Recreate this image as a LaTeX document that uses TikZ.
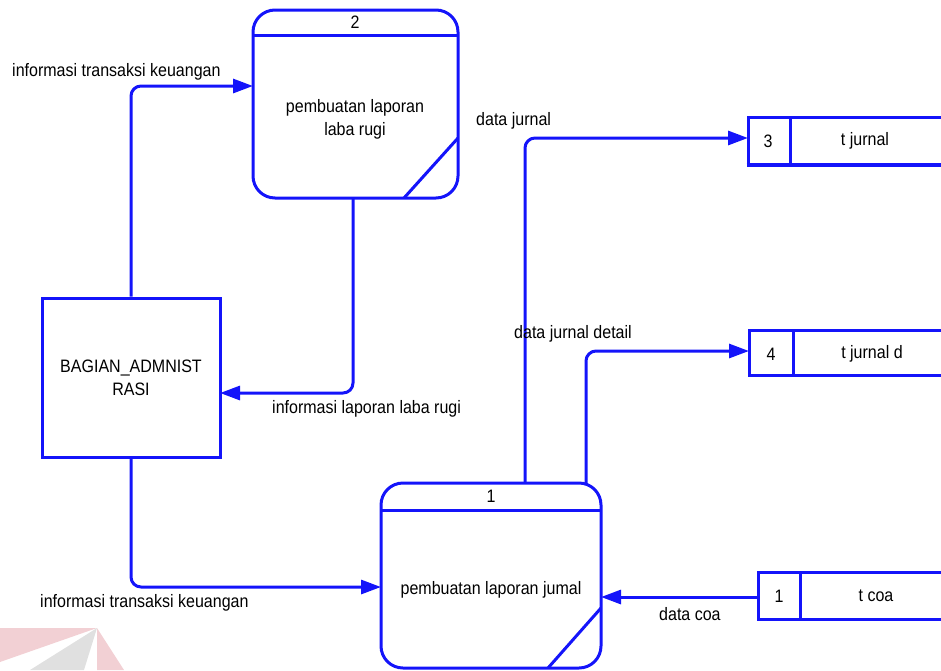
\documentclass[tikz,border=0pt]{standalone}
\usepackage{fontspec}
\setmainfont[FakeStretch=0.89]{Liberation Sans}
\usetikzlibrary{arrows.meta}
\definecolor{dfdblue}{RGB}{20,20,250}
\definecolor{markpink}{RGB}{242,208,212}
\definecolor{markgrey}{RGB}{224,224,224}
\begin{document}
\begin{tikzpicture}[x=1pt,y=-1pt,
  font=\fontsize{18}{23}\selectfont,
  proc/.style={draw=dfdblue, line width=3pt, rounded corners=22pt, inner sep=0pt},
  entity/.style={draw=dfdblue, line width=3pt, inner sep=0pt, align=center},
  txt/.style={inner sep=0pt, align=center},
  lbl/.style={inner sep=0pt, anchor=west},
  rule/.style={draw=dfdblue, line width=3pt},
  flow/.style={draw=dfdblue, line width=3pt, rounded corners=10pt,
    -{Triangle[length=20pt,width=14pt]}}]
\useasboundingbox (0,0) rectangle (941,670);

% faint logo mark in the lower left corner
\fill[markpink] (0,628) -- (97,628) -- (0,662) -- cycle;
\fill[markpink] (97,628) -- (124,670) -- (97,670) -- cycle;
\fill[markgrey] (97,628) -- (30,670) -- (84,670) -- cycle;

% process 2
\node[proc, minimum width=205pt, minimum height=188pt] (p2) at (355.5,104) {};
\node[txt] (p2num) at (355,22) {2};
\node[txt] (p2txt) at (355,119) {pembuatan laporan\\laba rugi};
\draw[rule] (253,35) -- (458,35);
\draw[rule] (458,138) -- (404,198);

% external entity
\node[entity, minimum width=178pt, minimum height=159pt] (ent) at (131,377.5)
  {BAGIAN\_ADMNIST\\RASI};

% process 1
\node[proc, minimum width=220pt, minimum height=185pt] (p1) at (491,575.5) {};
\node[txt] (p1num) at (491,496) {1};
\node[txt] (p1txt) at (491,590) {pembuatan laporan jumal};
\draw[rule] (381,510) -- (601,510);
\draw[rule] (601,608) -- (548,668);

% data stores (open on the right)
\node[inner sep=0pt, minimum width=200pt, minimum height=48pt, anchor=west] (s3) at (748,141) {};
\draw[rule] (945,117) -- (748,117) -- (748,165);
\draw[draw=dfdblue, line width=4.5pt] (746.5,165) -- (945,165);
\draw[rule] (790,117) -- (790,165);
\node[txt] (s3num) at (768,141) {3};
\node[txt] (s3txt) at (865,141) {t jurnal};

\node[inner sep=0pt, minimum width=200pt, minimum height=45pt, anchor=west] (s4) at (749,352.5) {};
\draw[rule] (945,330) -- (749,330) -- (749,375) -- (945,375);
\draw[rule] (793,330) -- (793,375);
\node[txt] (s4num) at (771,354) {4};
\node[txt] (s4txt) at (872,354) {t jurnal d};

\node[inner sep=0pt, minimum width=190pt, minimum height=47pt, anchor=west] (s1) at (758,595.5) {};
\draw[rule] (945,572) -- (758,572) -- (758,619) -- (945,619);
\draw[rule] (800,572) -- (800,619);
\node[txt] (s1num) at (779,596) {1};
\node[txt] (s1txt) at (876,596) {t coa};

% connector end points
\coordinate (p2in) at (253,86);
\coordinate (p2out) at (353,198);
\coordinate (entin) at (220,393);
\coordinate (p1in) at (381,587);
\coordinate (p1outa) at (525,483);
\coordinate (p1outb) at (586,483);
\coordinate (s3in) at (748,138);
\coordinate (s4in) at (749,351);
\coordinate (s1out) at (758,597);
\coordinate (p1inr) at (601,597);

% data flows
\draw[flow] (ent.north) |- (p2in);
\draw[flow] (p2out) |- (entin);
\draw[flow] (ent.south) |- (p1in);
\draw[flow] (p1outa) |- (s3in);
\draw[flow] (p1outb) |- (s4in);
\draw[flow] (s1out) -- (p1inr);

% flow labels
\node[lbl] (l1) at (12,72) {informasi transaksi keuangan};
\node[lbl] (l2) at (272,409) {informasi laporan laba rugi};
\node[lbl] (l3) at (40,603) {informasi transaksi keuangan};
\node[lbl] (l4) at (476,121) {data jurnal};
\node[lbl] (l5) at (514,334) {data jurnal detail};
\node[lbl] (l6) at (659,614) {data coa};
\end{tikzpicture}
\end{document}
